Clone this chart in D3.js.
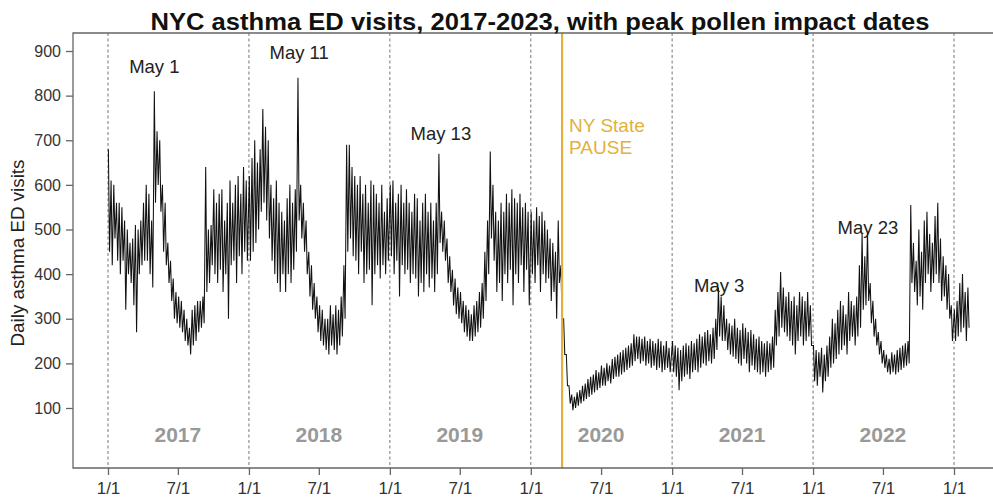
<!DOCTYPE html>
<html>
<head>
<meta charset="utf-8">
<script src="https://cdn.jsdelivr.net/npm/d3@7"></script>
<style>
  body { margin: 0; background: #fff; }
  svg { font-family: "Liberation Sans", Arial, sans-serif; }
</style>
</head>
<body>
<div id="chart"></div>
<script>
// weekly high / low of daily visits (52 weeks per year)
var hi2017 = [680,610,600,560,560,550,520,500,470,480,510,500,520,560,600,580,520,810,720,700,600,560,470,430,390,360,350,340,320,300,280,320,330,340,340,350,640,500,510,590,560,580,590,520,560,610,560,600,620,580,640,610];
var lo2017 = [450,420,480,430,400,430,320,400,380,330,270,400,420,430,430,400,370,560,600,540,450,420,380,340,300,290,280,270,250,240,220,240,250,270,280,290,360,380,420,400,380,410,360,400,300,420,430,380,440,400,450,430];
var hi2018 = [620,660,700,650,680,770,730,700,600,570,610,560,540,520,570,600,560,590,840,600,560,520,450,420,380,350,330,320,300,300,330,310,330,320,350,420,690,690,640,620,600,620,580,600,560,610,600,580,560,600,540,570];
var lo2018 = [430,450,470,500,540,560,520,480,430,400,380,360,400,360,400,380,410,450,520,480,450,400,350,320,300,270,250,240,230,220,240,230,220,240,260,300,450,480,440,430,400,450,380,400,410,330,400,420,390,420,400,430];
var hi2019 = [600,610,560,580,600,560,590,560,540,580,570,520,560,580,540,560,520,560,670,540,520,480,440,410,390,370,360,340,330,320,310,330,340,360,380,450,520,675,600,540,520,560,540,580,560,590,570,560,580,550,560,540];
var lo2019 = [440,400,430,350,420,400,410,380,400,390,350,380,360,400,370,390,360,400,470,450,430,380,360,330,310,300,290,270,260,250,250,260,270,280,300,340,400,480,430,360,380,340,400,380,410,330,400,380,420,360,410,330];
var hi2020 = [540,520,550,530,540,520,500,480,470,450,520,420,300,220,150,130,125,135,140,150,155,165,170,175,185,180,195,190,200,195,210,215,220,225,230,235,240,245,265,260,260,255,260,250,255,250,245,255,250,240,250,235];
var lo2020 = [400,380,420,360,400,380,390,340,360,300,380,300,220,150,110,95,100,105,110,115,120,125,130,135,140,145,150,150,160,155,165,170,170,175,180,185,190,195,205,210,200,205,195,200,190,195,185,190,180,185,190,180];
var hi2021 = [250,240,235,230,240,245,240,250,245,255,265,260,270,275,265,280,300,370,350,330,300,290,285,300,280,275,290,280,270,275,265,255,260,250,245,250,245,260,320,360,405,370,350,360,340,350,330,360,350,340,360,330];
var lo2021 = [180,170,140,160,170,175,165,180,185,180,190,200,195,205,200,210,230,260,250,250,230,220,215,210,200,195,210,200,180,195,185,180,175,180,170,180,185,190,240,260,280,270,260,250,240,220,250,260,240,250,260,240];
var hi2022 = [240,230,225,235,220,240,260,300,290,320,340,330,310,360,340,330,350,420,490,440,495,380,340,300,270,250,230,220,210,225,220,230,235,240,245,250,555,470,430,500,450,520,540,490,470,530,560,480,440,420,400,330];
var lo2022 = [160,150,170,135,160,170,190,200,210,220,230,240,220,250,260,240,260,280,320,330,340,290,260,240,220,200,190,180,175,180,175,180,185,190,195,200,380,360,330,350,320,380,400,360,380,400,380,340,350,320,300,250];
var hi2023 = [320,340,380,400,360,370];
var lo2023 = [250,260,270,280,250,280];

var years = [2017, 2018, 2019, 2020, 2021, 2022, 2023];
var weeklyHigh = [hi2017, hi2018, hi2019, hi2020, hi2021, hi2022, hi2023];
var weeklyLow = [lo2017, lo2018, lo2019, lo2020, lo2021, lo2022, lo2023];
var yearLabels = ["2017", "2018", "2019", "2020", "2021", "2022"];
var yTicks = [100, 200, 300, 400, 500, 600, 700, 800, 900];

// peak pollen notes: label, date of the peak, height of the text
var peakLabels = ["May 1", "May 11", "May 13", "May 3", "May 23"];
var peakDates = ["2017-05-01", "2018-05-11", "2019-05-13", "2021-05-03", "2022-05-23"];
var peakTextValue = [850, 882, 700, 360, 490];
var pauseDate = "2020-03-22";

var width = 993, height = 498;
var plotLeft = 73, plotTop = 33, plotBottom = 468;

var svg = d3.select("#chart").append("svg")
  .attr("width", width)
  .attr("height", height);

var x = d3.scaleTime()
  .domain([new Date(2017, 0, 1), new Date(2023, 0, 1)])
  .range([108, 954]);

var y = d3.scaleLinear()
  .domain([100, 900])
  .range([408, 51]);

var parse = d3.timeParse("%Y-%m-%d");

// build the daily-looking series: high then low in each week
var points = [];
for (let i = 0; i < years.length; i++) {
  let start = new Date(years[i], 0, 1);
  for (let w = 0; w < weeklyHigh[i].length; w++) {
    points.push({ date: d3.timeDay.offset(start, 7 * w + 1), v: weeklyHigh[i][w] });
    points.push({ date: d3.timeDay.offset(start, 7 * w + 4), v: weeklyLow[i][w] });
  }
}
points.sort((a, b) => a.date - b.date);

// year separators
var jan1 = years.map(yr => new Date(yr, 0, 1));
svg.selectAll(".sep")
  .data(jan1)
  .enter().append("line")
  .attr("x1", d => x(d)).attr("x2", d => x(d))
  .attr("y1", plotTop).attr("y2", plotBottom)
  .attr("stroke", "#777")
  .attr("stroke-width", 1)
  .attr("stroke-dasharray", "3,2.5");

// the series
svg.append("path")
  .datum(points)
  .attr("fill", "none")
  .attr("stroke", "#111")
  .attr("stroke-width", 1.05)
  .attr("d", d3.line().x(d => x(d.date)).y(d => y(d.v)));

// PAUSE line
var pauseX = x(parse(pauseDate));
svg.append("line")
  .attr("x1", pauseX).attr("x2", pauseX)
  .attr("y1", plotTop).attr("y2", plotBottom)
  .attr("stroke", "#E2B13C")
  .attr("stroke-width", 2.2);

svg.append("text")
  .attr("x", pauseX + 7).attr("y", 132)
  .style("font-size", "19px").style("fill", "#E2B13C")
  .text("NY State");
svg.append("text")
  .attr("x", pauseX + 7).attr("y", 154)
  .style("font-size", "19px").style("fill", "#E2B13C")
  .text("PAUSE");

// box
svg.append("path")
  .attr("d", `M${width},${plotTop}H${plotLeft}V${plotBottom}H${width}`)
  .attr("fill", "none")
  .attr("stroke", "#666")
  .attr("stroke-width", 1.3);

// y axis
var yAxis = svg.append("g")
  .attr("transform", `translate(${plotLeft},0)`)
  .call(d3.axisLeft(y).tickValues(yTicks).tickSize(7).tickPadding(5));
yAxis.select(".domain").remove();
yAxis.selectAll("line").attr("stroke", "#666").attr("stroke-width", 1.3);
yAxis.selectAll("text").style("font-size", "16px").style("fill", "#333")
  .style("font-family", "Liberation Sans, Arial, sans-serif");

// x axis
var xTicks = [];
years.forEach(yr => {
  xTicks.push(new Date(yr, 0, 1));
  if (yr < 2023) xTicks.push(new Date(yr, 6, 1));
});
var xAxis = svg.append("g")
  .attr("transform", `translate(0,${plotBottom})`)
  .call(d3.axisBottom(x).tickValues(xTicks).tickSize(7).tickPadding(7)
    .tickFormat(d3.timeFormat("%-m/%-d")));
xAxis.select(".domain").remove();
xAxis.selectAll("line").attr("stroke", "#666").attr("stroke-width", 1.3);
xAxis.selectAll("text").style("font-size", "17px").style("fill", "#333")
  .style("font-family", "Liberation Sans, Arial, sans-serif");

// year labels
svg.selectAll(".yr")
  .data(yearLabels)
  .enter().append("text")
  .attr("x", d => x(new Date(+d, 6, 1)))
  .attr("y", 442)
  .attr("text-anchor", "middle")
  .style("font-size", "21px")
  .style("font-weight", "bold")
  .style("fill", "#999")
  .text(d => d);

// peak labels
svg.selectAll(".peak")
  .data(peakLabels)
  .enter().append("text")
  .attr("x", (d, i) => x(parse(peakDates[i])))
  .attr("y", (d, i) => y(peakTextValue[i]))
  .attr("text-anchor", "middle")
  .style("font-size", "18.5px")
  .style("fill", "#222")
  .text(d => d);

// y label
svg.append("text")
  .attr("transform", "translate(24,253) rotate(-90)")
  .attr("text-anchor", "middle")
  .attr("textLength", 187)
  .attr("lengthAdjust", "spacingAndGlyphs")
  .style("font-size", "18px")
  .style("fill", "#222")
  .text("Daily asthma ED visits");

// title
svg.append("text")
  .attr("x", 540)
  .attr("y", 30)
  .attr("text-anchor", "middle")
  .attr("textLength", 779)
  .attr("lengthAdjust", "spacingAndGlyphs")
  .style("font-size", "24px")
  .style("font-weight", "bold")
  .style("fill", "#111")
  .text("NYC asthma ED visits, 2017-2023, with peak pollen impact dates");
</script>
</body>
</html>
